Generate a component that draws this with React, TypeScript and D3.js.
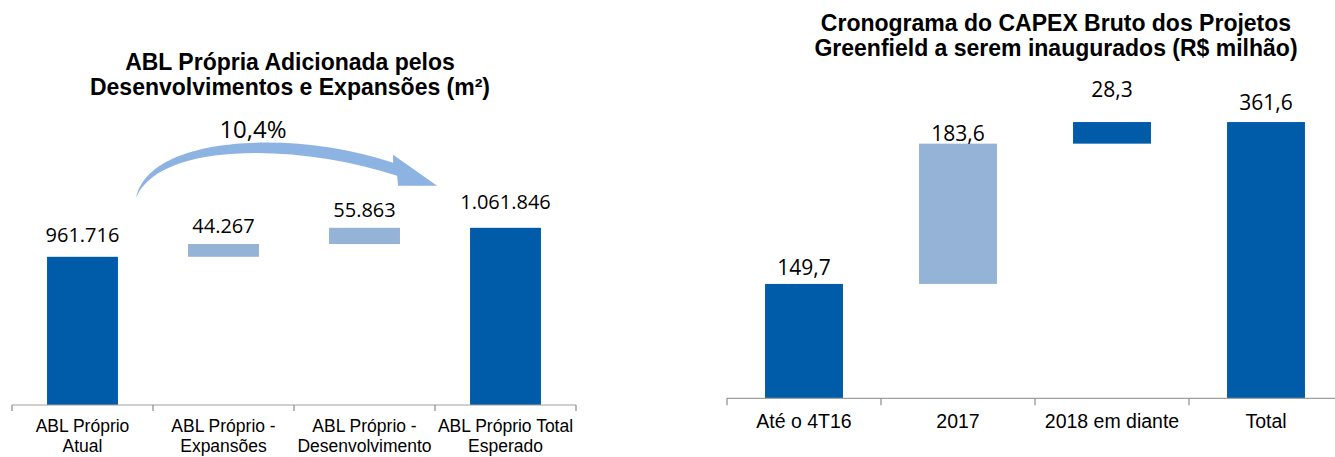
import React from "react";
import * as d3 from "d3";

// ---------- DATA ----------
const leftTitle = ["ABL Própria Adicionada pelos", "Desenvolvimentos e Expansões (m²)"];
const leftCategories = [
  ["ABL Próprio", "Atual"],
  ["ABL Próprio -", "Expansões"],
  ["ABL Próprio -", "Desenvolvimento"],
  ["ABL Próprio Total", "Esperado"],
];
const leftValues = [961716, 44267, 55863, 1061846];
const leftKinds = ["total", "delta", "delta", "total"];

const rightTitle = ["Cronograma do CAPEX Bruto dos Projetos", "Greenfield a serem inaugurados (R$ milhão)"];
const rightCategories = ["Até o 4T16", "2017", "2018 em diante", "Total"];
const rightValues = [149.7, 183.6, 28.3, 361.6];
const rightKinds = ["total", "delta", "delta", "total"];

// ---------- STYLE / LAYOUT ----------
const DARK = "#005ca9";
const LIGHT = "#95b3d7";
const ARROW = "#8db3e2";
const AXIS = "#a0a0a0";
const leftShades = [DARK, LIGHT, LIGHT, DARK];
const rightShades = [DARK, LIGHT, DARK, DARK];
const leftLabelGap = [15, 11, 11, 19];
const rightLabelGap = [9, 3, 25, 12];
const VALUE_FONT = "'Open Sans', 'Noto Sans', sans-serif";
const LABEL_FONT = "'Liberation Sans', Arial, sans-serif";

const locale = d3.formatLocale({ decimal: ",", thousands: ".", grouping: [3], currency: ["R$ ", ""] });
const fmtInt = locale.format(",.0f");
const fmtDec = locale.format(",.1f");
const fmtPct = locale.format(".1%");

type Seg = { lo: number; hi: number };
function waterfall(values: number[], kinds: string[], floor: number): Seg[] {
  let run = 0;
  return values.map((v, i) => {
    if (kinds[i] === "total") {
      run = v;
      return { lo: floor, hi: v };
    }
    const s = run;
    run += v;
    return { lo: s, hi: run };
  });
}

function Axis({ x, y, n, tick }: { x: d3.ScaleBand<string>; y: number; n: number; tick: number }) {
  const [r0, r1] = x.range();
  const step = x.step();
  const ticks = d3.range(n + 1).map((i) => r0 + i * step);
  return (
    <g>
      <line x1={r0} x2={r1} y1={y} y2={y} stroke={AXIS} strokeWidth={1.2} />
      {ticks.map((t, i) => (
        <line key={i} x1={t} x2={t} y1={y} y2={y + tick} stroke={"#8a8a8a"} strokeWidth={1.2} />
      ))}
    </g>
  );
}

export default function App() {
  // ---------- LEFT CHART ----------
  const lIdx = leftCategories.map((_, i) => String(i));
  const xL = d3.scaleBand<string>().domain(lIdx).range([12, 576]).padding(0);
  const yLFloor = 450000;
  const yL = d3.scaleLinear().domain([yLFloor, 1100000]).range([405, 405 - 650000 * 2.896e-4]);
  const lSegs = waterfall(leftValues, leftKinds, yLFloor);
  const lbw = xL.bandwidth() * 0.503;

  // arrow anchored to the first and last bars
  const growth = leftValues[3] / leftValues[0] - 1;
  const ax = (xL("0") as number) + xL.bandwidth() * 0.88;
  const ay = yL(leftValues[0]) - 59;
  const arrowPath = d3.path();
  arrowPath.moveTo(ax, ay);
  arrowPath.bezierCurveTo(ax + 14, ay - 65, ax + 164, ay - 67, ax + 257, ay - 35);
  arrowPath.lineTo(ax + 257, ay - 43);
  arrowPath.lineTo(ax + 301, ay - 12);
  arrowPath.lineTo(ax + 262, ay - 12);
  arrowPath.lineTo(ax + 261, ay - 22);
  arrowPath.bezierCurveTo(ax + 164, ay - 54, ax + 24, ay - 57, ax, ay);
  arrowPath.closePath();

  // ---------- RIGHT CHART ----------
  const rIdx = rightCategories.map((_, i) => String(i));
  const xR = d3.scaleBand<string>().domain(rIdx).range([727, 1343]).padding(0);
  const yR = d3.scaleLinear().domain([0, 400]).range([398.3, 398.3 - 400 * 0.764]);
  const rSegs = waterfall(rightValues, rightKinds, 0);
  const rbw = xR.bandwidth() * 0.506;

  return (
    <svg
      width={1335}
      height={457}
      style={{ position: "absolute", left: 0, top: 0, display: "block", background: "#fff" }}
    >
      {/* LEFT TITLE */}
      <text textAnchor="middle" fontFamily={LABEL_FONT} fontWeight="bold" fontSize={23} fill="#000">
        <tspan x={290} y={70}>{leftTitle[0]}</tspan>
        <tspan x={290} y={94.5}>{leftTitle[1]}</tspan>
      </text>

      {/* LEFT BARS */}
      {lSegs.map((s, i) => {
        const cx = (xL(String(i)) as number) + xL.bandwidth() / 2;
        const top = yL(s.hi);
        const bot = yL(s.lo);
        return (
          <g key={"lb" + i}>
            <rect x={cx - lbw / 2} y={top} width={lbw} height={bot - top} fill={leftShades[i]} />
            <text
              x={cx}
              y={top - leftLabelGap[i]}
              textAnchor="middle"
              fontFamily={VALUE_FONT}
              fontSize={20}
              fill="#000"
            >
              {fmtInt(leftValues[i])}
            </text>
          </g>
        );
      })}

      <path d={arrowPath.toString()} fill={ARROW} />
      <text x={253} y={138} textAnchor="middle" fontFamily={VALUE_FONT} fontSize={24} fill="#000">
        {fmtPct(growth)}
      </text>

      <Axis x={xL} y={405} n={leftCategories.length} tick={6} />
      {leftCategories.map((lines, i) => {
        const cx = (xL(String(i)) as number) + xL.bandwidth() / 2;
        return (
          <text key={"lc" + i} textAnchor="middle" fontFamily={LABEL_FONT} fontSize={17.5} fill="#000">
            {lines.map((t, j) => (
              <tspan key={j} x={cx} y={431.7 + j * 20.5}>
                {t}
              </tspan>
            ))}
          </text>
        );
      })}

      {/* RIGHT TITLE */}
      <text textAnchor="middle" fontFamily={LABEL_FONT} fontWeight="bold" fontSize={23} fill="#000">
        <tspan x={1056} y={31}>{rightTitle[0]}</tspan>
        <tspan x={1056} y={56}>{rightTitle[1]}</tspan>
      </text>

      {/* RIGHT BARS */}
      {rSegs.map((s, i) => {
        const cx = (xR(String(i)) as number) + xR.bandwidth() / 2;
        const top = yR(s.hi);
        const bot = yR(s.lo);
        return (
          <g key={"rb" + i}>
            <rect x={cx - rbw / 2} y={top} width={rbw} height={bot - top} fill={rightShades[i]} />
            <text
              x={cx}
              y={top - rightLabelGap[i]}
              textAnchor="middle"
              fontFamily={VALUE_FONT}
              fontSize={21}
              fill="#000"
            >
              {fmtDec(rightValues[i])}
            </text>
          </g>
        );
      })}

      <Axis x={xR} y={398.3} n={rightCategories.length} tick={7} />
      {rightCategories.map((t, i) => {
        const cx = (xR(String(i)) as number) + xR.bandwidth() / 2;
        return (
          <text key={"rc" + i} x={cx} y={428.3} textAnchor="middle" fontFamily={LABEL_FONT} fontSize={19.5} fill="#000">
            {t}
          </text>
        );
      })}
    </svg>
  );
}
